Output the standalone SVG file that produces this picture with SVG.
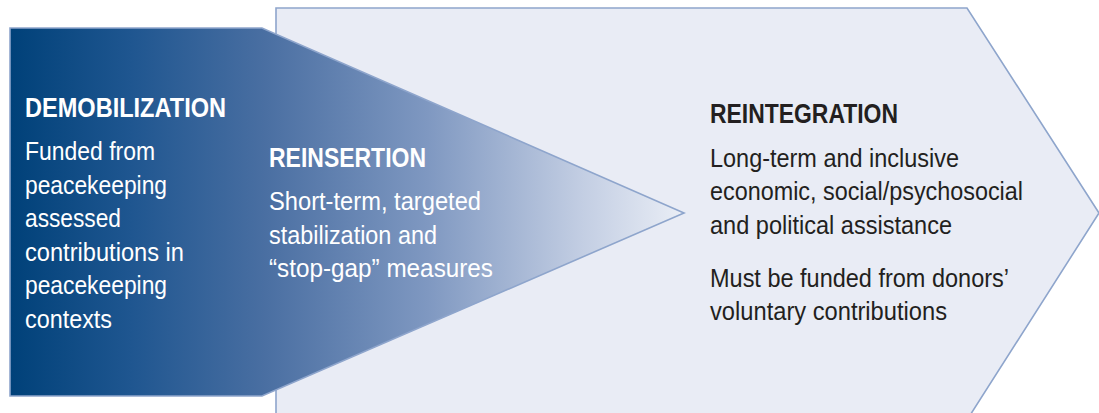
<svg xmlns="http://www.w3.org/2000/svg" width="1099" height="413" viewBox="0 0 1099 413">
<defs>
<linearGradient id="g" gradientUnits="userSpaceOnUse" x1="10" y1="0" x2="684" y2="0">
<stop offset="0" stop-color="#004179"/>
<stop offset="0.18" stop-color="#1f5690"/>
<stop offset="0.38" stop-color="#4a6fa2"/>
<stop offset="0.62" stop-color="#7f98c1"/>
<stop offset="0.85" stop-color="#c3cee3"/>
<stop offset="1" stop-color="#eaeef6"/>
</linearGradient>
</defs>
<style>
.sh{stroke:#8ea5cc;stroke-width:1.6;stroke-linejoin:miter}
.h{font-family:"Liberation Sans",Arial,sans-serif;font-weight:bold;font-size:27px}
.b{font-family:"Liberation Sans",Arial,sans-serif;font-size:25px}
.w{fill:#ffffff}
.k{fill:#231f20}
</style>
<rect width="1099" height="413" fill="#ffffff"/>
<g id="reintegration">
<polygon class="sh" fill="#e9ecf5" points="276,420 276,8 967,8 1099,213 967,420"/>
<text class="h k" x="710" y="123" textLength="188" lengthAdjust="spacingAndGlyphs">REINTEGRATION</text>
<text class="b k" x="710" y="167" textLength="249" lengthAdjust="spacingAndGlyphs">Long-term and inclusive</text>
<text class="b k" x="710" y="200" textLength="313" lengthAdjust="spacingAndGlyphs">economic, social/psychosocial</text>
<text class="b k" x="710" y="234" textLength="242" lengthAdjust="spacingAndGlyphs">and political assistance</text>
<text class="b k" x="710" y="287" textLength="299" lengthAdjust="spacingAndGlyphs">Must be funded from donors’</text>
<text class="b k" x="710" y="320" textLength="237" lengthAdjust="spacingAndGlyphs">voluntary contributions</text>
</g>
<g id="demobilization">
<polygon class="sh" fill="url(#g)" points="10,28 262,28 684,213 262,396 10,396"/>
<text class="h w" x="25" y="117" textLength="201" lengthAdjust="spacingAndGlyphs">DEMOBILIZATION</text>
<text class="b w" x="25" y="160" textLength="130" lengthAdjust="spacingAndGlyphs">Funded from</text>
<text class="b w" x="25" y="193.5" textLength="142" lengthAdjust="spacingAndGlyphs">peacekeeping</text>
<text class="b w" x="25" y="227" textLength="96" lengthAdjust="spacingAndGlyphs">assessed</text>
<text class="b w" x="25" y="260.5" textLength="159" lengthAdjust="spacingAndGlyphs">contributions in</text>
<text class="b w" x="25" y="294" textLength="142" lengthAdjust="spacingAndGlyphs">peacekeeping</text>
<text class="b w" x="25" y="327.5" textLength="87" lengthAdjust="spacingAndGlyphs">contexts</text>
</g>
<g id="reinsertion">
<text class="h w" x="269" y="167" textLength="157" lengthAdjust="spacingAndGlyphs">REINSERTION</text>
<text class="b w" x="269" y="210" textLength="212" lengthAdjust="spacingAndGlyphs">Short-term, targeted</text>
<text class="b w" x="269" y="243.5" textLength="168" lengthAdjust="spacingAndGlyphs">stabilization and</text>
<text class="b w" x="269" y="277" textLength="224" lengthAdjust="spacingAndGlyphs">“stop-gap” measures</text>
</g>
<g id="connectors"></g>
</svg>
